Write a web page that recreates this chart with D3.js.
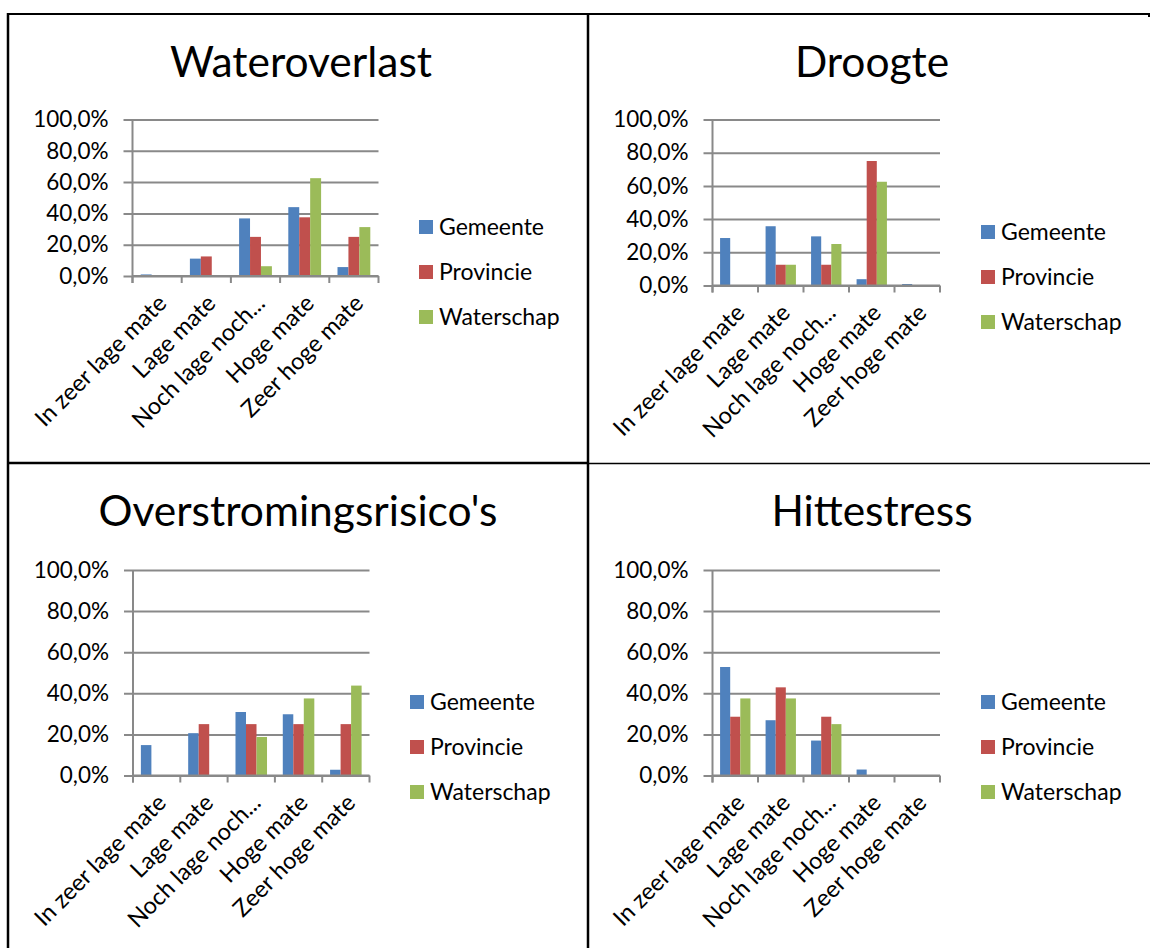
<!DOCTYPE html>
<html>
<head>
<meta charset="utf-8">
<script src="https://cdn.jsdelivr.net/npm/d3@7"></script>
<style>
  html, body { margin: 0; padding: 0; background: #fff; }
  svg { display: block; font-family: Lato, "Open Sans", sans-serif; }
</style>
</head>
<body>
<svg id="chart" width="1150" height="948"></svg>
<script>
// Answer categories (x axis), respondent groups (legend) and axis ticks
const categories = ["In zeer lage mate", "Lage mate", "Noch lage noch...", "Hoge mate", "Zeer hoge mate"];
const seriesNames = ["Gemeente", "Provincie", "Waterschap"];
const yTicks = [0, 20, 40, 60, 80, 100];
const titles = ["Wateroverlast", "Droogte", "Overstromingsrisico's", "Hittestress"];

// Percentages per category, one array per theme and group
const wateroverlastGemeente   = [1.0, 11.1, 36.8, 44.0, 5.7];
const wateroverlastProvincie  = [0, 12.5, 25.0, 37.5, 25.0];
const wateroverlastWaterschap = [0, 0, 6.25, 62.5, 31.25];

const droogteGemeente   = [28.6, 35.7, 29.6, 3.8, 0.9];
const droogteProvincie  = [0, 12.5, 12.5, 75.0, 0];
const droogteWaterschap = [0, 12.5, 25.0, 62.5, 0];

const overstromingGemeente   = [14.8, 20.6, 30.9, 29.8, 2.8];
const overstromingProvincie  = [0, 25.0, 25.0, 25.0, 25.0];
const overstromingWaterschap = [0, 0, 18.75, 37.5, 43.75];

const hittestressGemeente   = [52.8, 26.9, 17.0, 2.9, 0];
const hittestressProvincie  = [28.6, 42.9, 28.6, 0, 0];
const hittestressWaterschap = [37.5, 37.5, 25.0, 0, 0];

const colors = ["#4F81BD", "#C0504D", "#9BBB59"];

// Where each small chart sits on the page
const panels = [
  { title: titles[0], series: [wateroverlastGemeente, wateroverlastProvincie, wateroverlastWaterschap],
    left: 132.5, right: 378.5, top: 119.5, bottom: 276, titleX: 301, titleY: 77, legX: 419, legY: 227 },
  { title: titles[1], series: [droogteGemeente, droogteProvincie, droogteWaterschap],
    left: 712.5, right: 940, top: 119.5, bottom: 285.5, titleX: 872, titleY: 77, legX: 981, legY: 232 },
  { title: titles[2], series: [overstromingGemeente, overstromingProvincie, overstromingWaterschap],
    left: 133, right: 369.5, top: 570, bottom: 775.5, titleX: 298, titleY: 526, legX: 410, legY: 702 },
  { title: titles[3], series: [hittestressGemeente, hittestressProvincie, hittestressWaterschap],
    left: 712.5, right: 940, top: 570, bottom: 775.5, titleX: 872, titleY: 526, legX: 981, legY: 702 }
];

const svg = d3.select("#chart");
svg.append("rect").attr("width", 1150).attr("height", 948).attr("fill", "#fff");

const fmt = v => d3.format(".1f")(v).replace(".", ",") + "%";
const gridColor = "#898989";

panels.forEach(p => {
  const g = svg.append("g");

  const x = d3.scaleBand().domain(categories).range([p.left, p.right]).paddingInner(0).paddingOuter(0);
  const xs = d3.scaleBand().domain(seriesNames).range([0, x.bandwidth()]).paddingInner(0).paddingOuter(0.75);
  const y = d3.scaleLinear().domain([0, 100]).range([p.bottom, p.top]);

  // Title
  g.append("text")
    .attr("x", p.titleX).attr("y", p.titleY)
    .attr("text-anchor", "middle")
    .attr("font-size", 42.5)
    .attr("fill", "#000")
    .text(p.title);

  // Horizontal gridlines with value labels
  const yAxis = d3.axisLeft(y).tickValues(yTicks).tickFormat(fmt)
    .tickSize(0).tickSizeOuter(0);
  const ya = g.append("g").attr("transform", `translate(${p.left},0)`).call(yAxis);
  ya.select(".domain").remove();
  ya.selectAll(".tick line").attr("stroke", gridColor).attr("stroke-width", 2)
    .attr("x1", -9).attr("x2", p.right - p.left);
  ya.selectAll(".tick text")
    .attr("x", -24)
    .attr("font-size", 22.5).attr("font-family", "Lato, sans-serif").attr("fill", "#000");

  // Bars
  p.series.forEach((vals, si) => {
    g.append("g").selectAll("rect")
      .data(vals.map((v, i) => ({ cat: categories[i], v })))
      .join("rect")
      .attr("x", d => x(d.cat) + xs(seriesNames[si]))
      .attr("width", xs.bandwidth())
      .attr("y", d => y(d.v))
      .attr("height", d => y(0) - y(d.v))
      .attr("fill", colors[si]);
  });

  // Vertical value axis
  g.append("line")
    .attr("x1", p.left).attr("x2", p.left)
    .attr("y1", p.top).attr("y2", p.bottom + 7)
    .attr("stroke", gridColor).attr("stroke-width", 2);

  // Category axis with tick marks between categories
  g.append("line")
    .attr("x1", p.left).attr("x2", p.right)
    .attr("y1", p.bottom).attr("y2", p.bottom)
    .attr("stroke", gridColor).attr("stroke-width", 2);
  const bounds = categories.map(c => x(c)).concat([x(categories[categories.length - 1]) + x.bandwidth()]);
  g.append("g").selectAll("line").data(bounds).join("line")
    .attr("x1", d => d).attr("x2", d => d)
    .attr("y1", p.bottom).attr("y2", p.bottom + 7)
    .attr("stroke", gridColor).attr("stroke-width", 2);

  // Rotated category labels
  g.append("g").selectAll("text").data(categories).join("text")
    .attr("transform", c => `translate(${x(c) + x.bandwidth() / 2 + 5},${p.bottom + 23}) rotate(-45)`)
    .attr("text-anchor", "end")
    .attr("dy", "0.35em")
    .attr("font-size", 23.5)
    .attr("fill", "#000")
    .text(c => c);

  // Legend
  const leg = g.append("g").selectAll("g").data(seriesNames).join("g")
    .attr("transform", (s, i) => `translate(${p.legX},${p.legY + i * 45})`);
  leg.append("rect").attr("x", 0).attr("y", -7).attr("width", 14).attr("height", 14)
    .attr("fill", (s, i) => colors[i]);
  leg.append("text").attr("x", 20).attr("dy", "0.35em")
    .attr("font-size", 23).attr("fill", "#000")
    .text(s => s);
});

// Table frame around the four charts
const frame = svg.append("g").attr("stroke", "#000").attr("fill", "none");
frame.append("line").attr("x1", 7).attr("x2", 1150).attr("y1", 14).attr("y2", 14).attr("stroke-width", 2);
frame.append("line").attr("x1", 8).attr("x2", 8).attr("y1", 13).attr("y2", 948).attr("stroke-width", 2.5);
frame.append("line").attr("x1", 588).attr("x2", 588).attr("y1", 13).attr("y2", 948).attr("stroke-width", 2.5);
frame.append("line").attr("x1", 8).attr("x2", 588).attr("y1", 463).attr("y2", 463).attr("stroke-width", 2.5);
frame.append("line").attr("x1", 588).attr("x2", 1150).attr("y1", 463.5).attr("y2", 463.5).attr("stroke-width", 1.5);
frame.append("line").attr("x1", 1149).attr("x2", 1149).attr("y1", 13).attr("y2", 17).attr("stroke-width", 2);
</script>
</body>
</html>
